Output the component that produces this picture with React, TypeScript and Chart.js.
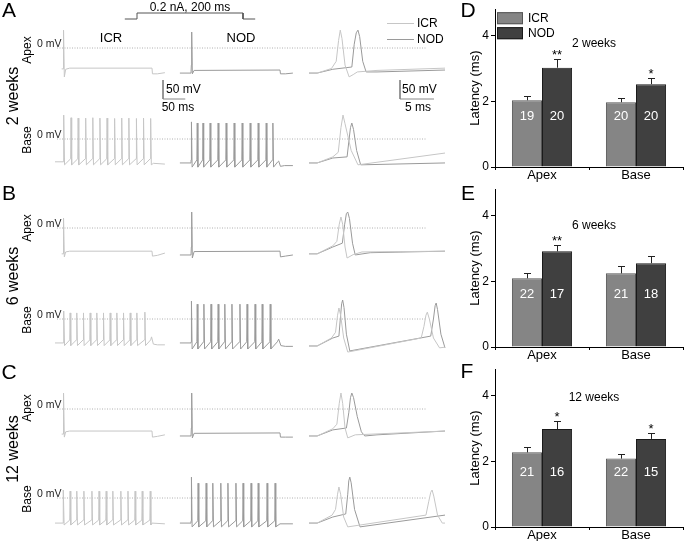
import React, { useEffect, useRef } from 'react';
import { Chart, registerables } from 'chart.js';

Chart.register(...registerables);

const FONT = 'Arial, "Liberation Sans", Helvetica, sans-serif';
Chart.defaults.font.family = FONT;
Chart.defaults.color = '#000';

type Pt = [number, number];

// ---------------- Bar chart data (latency, ms) ----------------
const groups = ['ICR', 'NOD'];
const barCategories = ['Apex', 'Base'];
const weekTitles = ['2 weeks', '6 weeks', '12 weeks'];
const latencyTicks = [0, 2, 4];

const icrLatency2w = [2.03, 1.97];
const icrErr2w = [0.12, 0.14];
const nodLatency2w = [3.02, 2.52];
const nodErr2w = [0.25, 0.2];
const icrN2w = [19, 20];
const nodN2w = [20, 20];
const nodStars2w = ['**', '*'];

const icrLatency6w = [2.09, 2.24];
const icrErr6w = [0.17, 0.22];
const nodLatency6w = [2.91, 2.55];
const nodErr6w = [0.18, 0.21];
const icrN6w = [22, 21];
const nodN6w = [17, 18];
const nodStars6w = ['**', ''];

const icrLatency12w = [2.27, 2.08];
const icrErr12w = [0.15, 0.15];
const nodLatency12w = [2.98, 2.68];
const nodErr12w = [0.24, 0.18];
const icrN12w = [21, 22];
const nodN12w = [16, 15];
const nodStars12w = ['*', '*'];

// ---------------- Trace data: [time ms, mV] ----------------
// Apex, long step (t = 0 at step onset, step lasts 200 ms)
const apexIcr2w: Pt[] = [[-3, -55], [0, -55], [0.8, -40], [1.6, 47], [3, -76], [6, -56], [15, -53], [200, -53], [201, -68], [212, -68], [229, -65]];
const apexNod2w: Pt[] = [[-25, -66], [0, -66], [0.8, -45], [1.6, 42], [3, -68], [7, -59], [200, -58], [201, -68], [212, -68], [229, -66]];
const apexIcr6w: Pt[] = [[-3, -68], [0, -68], [0.8, -50], [1.6, 26], [3, -76], [6, -63], [15, -61], [200, -61], [201, -74], [212, -72], [229, -66]];
const apexNod6w: Pt[] = [[-25, -71], [0, -71], [0.8, -50], [1.6, 42], [3, -79], [7, -62], [200, -61], [201, -76], [212, -74], [229, -71]];
const apexIcr12w: Pt[] = [[-3, -66], [0, -66], [0.8, -48], [1.6, 42], [3, -74], [6, -60], [15, -58], [200, -58], [201, -74], [212, -72], [229, -68]];
const apexNod12w: Pt[] = [[-25, -71], [0, -71], [0.8, -50], [1.6, 42], [3, -76], [7, -64], [200, -63], [201, -74], [212, -74], [229, -74]];

// Base, long step: spike times (ms) and peak values (mV)
const icrSpikes2w = [2, 18, 34, 51, 67, 83, 99, 116, 132, 148, 165, 181, 197];
const icrPeaks2w = [63, 56, 55, 55, 56, 55, 55, 54, 55, 55, 54, 55, 54];
const icrAfter2w: Pt[] = [[203, -64], [229, -66]];
const nodSpikes2w = [1, 14, 27, 43, 61, 79, 97, 115, 133, 151, 169, 184];
const nodPeaks2w = [45, 42, 42, 42, 42, 42, 42, 42, 42, 42, 42, 42];
const nodAfter2w: Pt[] = [[195, -60], [197, -58], [201, -72], [210, -70], [229, -70]];

const icrSpikes6w = [2, 16, 31, 46, 61, 76, 91, 106, 121, 136, 151, 166, 184];
const icrPeaks6w = [21, 16, 16, 16, 16, 16, 16, 16, 16, 16, 16, 16, 18];
const icrAfter6w: Pt[] = [[197, -55], [199, -47], [203, -66], [212, -68], [229, -68]];
const nodSpikes6w = [1, 14, 29, 45, 61, 76, 92, 110, 126, 144, 160, 178];
const nodPeaks6w = [47, 39, 39, 39, 39, 39, 39, 39, 39, 39, 39, 39];
const nodAfter6w: Pt[] = [[194, -60], [197, -53], [202, -70], [212, -72], [229, -72]];

const icrSpikes12w = [1, 16, 31, 47, 65, 81, 97, 112, 130, 146, 162, 178, 196];
const icrPeaks12w = [21, 18, 18, 18, 18, 18, 18, 18, 18, 18, 18, 18, 18];
const icrAfter12w: Pt[] = [[200, -66], [229, -68]];
const nodSpikes12w = [1, 16, 34, 49, 67, 83, 101, 117, 135, 151, 171, 189];
const nodPeaks12w = [55, 39, 39, 39, 39, 39, 39, 39, 39, 39, 39, 39];
const nodAfter12w: Pt[] = [[200, -68], [229, -68]];

// First action potential, expanded time (t = 0 at trace start)
const zApexIcr2w: Pt[] = [[0, -66], [1.2, -66], [3.3, -54], [4.0, -35], [4.35, 20], [4.6, 47], [4.85, 25], [5.3, -45], [5.9, -76], [6.5, -70], [7.1, -63], [10, -59], [20, -53]];
const zApexNod2w: Pt[] = [[0, -66], [1.2, -66], [3.5, -56], [6.3, -50], [6.65, 10], [6.95, 40], [7.2, 47], [7.45, 30], [7.9, -35], [8.4, -63], [10, -63], [20, -58]];
const zBaseIcr2w: Pt[] = [[0, -63], [1.2, -63], [3.5, -47], [4.3, -35], [4.7, 30], [5.0, 63], [5.3, 40], [6.2, -30], [7.2, -68], [20, -37]];
const zBaseNod2w: Pt[] = [[0, -63], [1.2, -63], [3.5, -50], [5.6, -47], [5.9, 0], [6.1, 30], [6.3, 42], [6.55, 25], [7, -30], [7.6, -68], [20, -63]];

const zApexIcr6w: Pt[] = [[0, -68], [1.2, -68], [3.5, -47], [4.1, -35], [4.45, 10], [4.7, 29], [4.95, 10], [5.3, -50], [5.6, -79], [6.5, -70], [7.8, -63], [20, -61]];
const zApexNod6w: Pt[] = [[0, -68], [1.2, -68], [3.5, -50], [4.9, -40], [5.25, 10], [5.5, 38], [5.7, 42], [5.95, 25], [6.4, -40], [6.8, -71], [9, -65], [20, -61]];
const zBaseIcr6w: Pt[] = [[0, -71], [1.2, -71], [3.3, -50], [3.9, -35], [4.2, 10], [4.4, 29], [4.65, 10], [5.1, -50], [5.7, -87], [16.5, -50], [16.9, -20], [17.2, 10], [17.4, 18], [17.7, 0], [18.3, -50], [19.2, -76], [20, -74]];
const zBaseNod6w: Pt[] = [[0, -71], [1.2, -71], [3.5, -50], [4.4, -45], [4.65, 10], [4.8, 40], [4.95, 50], [5.15, 30], [5.5, -40], [6, -84], [17.9, -45], [18.3, 0], [18.55, 35], [18.7, 42], [18.9, 25], [19.4, -40], [20, -76]];

const zApexIcr12w: Pt[] = [[0, -71], [1.2, -71], [3.5, -52], [4.1, -40], [4.45, 15], [4.7, 42], [4.95, 15], [5.3, -50], [5.7, -76], [6.8, -68], [20, -58]];
const zApexNod12w: Pt[] = [[0, -71], [1.2, -71], [3.5, -55], [5.5, -50], [5.85, -10], [6.1, 30], [6.3, 42], [6.55, 30], [7.1, -20], [7.7, -60], [8.2, -71], [10, -68], [20, -58]];
const zBaseIcr12w: Pt[] = [[0, -66], [1.2, -66], [3.4, -45], [3.9, -30], [4.2, 10], [4.4, 29], [4.65, 10], [5.1, -50], [5.7, -76], [17.2, -45], [17.6, -10], [17.9, 15], [18.1, 21], [18.35, 5], [18.9, -45], [19.6, -66], [20, -66]];
const zBaseNod12w: Pt[] = [[0, -66], [1.2, -66], [3.5, -50], [5.4, -42], [5.7, 10], [5.85, 45], [6, 55], [6.2, 40], [6.7, -30], [7.5, -76], [20, -45]];

// Stimulus: [ms, nA]
const stimulus: Pt[] = [[-23, 0], [0, 0], [0, 0.2], [200, 0.2], [200, 0], [223, 0]];
// Scale bars: [ms, mV]
const scaleLong: Pt[] = [[0, 50], [0, 0], [50, 0]];
const scaleZoom: Pt[] = [[0, 50], [0, 0], [5, 0]];

// ---------------- helpers ----------------
function trainPoints(start: number, rest: number, spikes: number[], peaks: number[], thr: number, trough: number, after: Pt[]): Pt[] {
  const pts: Pt[] = [[start, rest], [0, rest]];
  spikes.forEach((t, i) => {
    pts.push([t - 0.8, thr], [t, peaks[i]], [t + 1.5, trough]);
  });
  return pts.concat(after);
}

const ICR_COLOR = '#c6c6c6';
const NOD_COLOR = '#9a9a9a';
const ICR_BAR = '#858585';
const NOD_BAR = '#404040';

type Box = { x: number; y: number; w: number; h: number };
type Series = { pts: Pt[]; color: string; dash?: number[] };

function traceConfig(box: Box, ax: number, ay: number, pxX: number, pxY: number, series: Series[]) {
  return {
    type: 'line',
    data: {
      datasets: series.map((s) => ({
        data: s.pts.map(([x, y]) => ({ x, y })),
        borderColor: s.color,
        borderWidth: 1,
        borderDash: s.dash || [],
        pointRadius: 0,
        tension: 0,
        fill: false,
      })),
    },
    options: {
      responsive: false,
      animation: false,
      devicePixelRatio: 1,
      events: [],
      layout: { padding: 0 },
      plugins: { legend: { display: false }, tooltip: { enabled: false } },
      scales: {
        x: { type: 'linear', display: false, min: (box.x - ax) / pxX, max: (box.x + box.w - ax) / pxX },
        y: { type: 'linear', display: false, min: (ay - box.y - box.h) / pxY, max: (ay - box.y) / pxY },
      },
    },
  };
}

function ChartCanvas({ box, config }: { box: Box; config: any }) {
  const ref = useRef<HTMLCanvasElement>(null);
  useEffect(() => {
    const chart = new Chart(ref.current as HTMLCanvasElement, config);
    return () => chart.destroy();
  }, []);
  return (
    <canvas
      ref={ref}
      width={box.w}
      height={box.h}
      style={{ position: 'absolute', left: box.x, top: box.y, width: box.w, height: box.h }}
    />
  );
}

function Label({ x, y, text, size, rotate, align, color }: { x: number; y: number; text: string; size: number; rotate?: boolean; align?: 'left' | 'center'; color?: string }) {
  const tx = align === 'left' ? '0' : '-50%';
  return (
    <div
      style={{
        position: 'absolute',
        left: x,
        top: y,
        transform: `translate(${tx}, -50%)${rotate ? ' rotate(-90deg)' : ''}`,
        transformOrigin: align === 'left' ? 'left center' : 'center center',
        fontSize: size,
        lineHeight: 1,
        whiteSpace: 'nowrap',
        fontFamily: FONT,
        color: color || '#000',
      }}
    >
      {text}
    </div>
  );
}

const PX_MS_LONG = 0.445;
const PX_MV = 0.38;
const PX_MS_ZOOM = 6.8;

type TraceRow = {
  zeroApex: number;
  zeroBase: number;
  apexIcr: Pt[];
  apexNod: Pt[];
  baseIcr: Pt[];
  baseNod: Pt[];
  zApexIcr: Pt[];
  zApexNod: Pt[];
  zBaseIcr: Pt[];
  zBaseNod: Pt[];
};

const rows: TraceRow[] = [
  {
    zeroApex: 48, zeroBase: 139,
    apexIcr: apexIcr2w, apexNod: apexNod2w,
    baseIcr: trainPoints(-18, -60, icrSpikes2w, icrPeaks2w, -52, -68, icrAfter2w),
    baseNod: trainPoints(-25, -63, nodSpikes2w, nodPeaks2w, -55, -74, nodAfter2w),
    zApexIcr: zApexIcr2w, zApexNod: zApexNod2w, zBaseIcr: zBaseIcr2w, zBaseNod: zBaseNod2w,
  },
  {
    zeroApex: 228, zeroBase: 319,
    apexIcr: apexIcr6w, apexNod: apexNod6w,
    baseIcr: trainPoints(-18, -63, icrSpikes6w, icrPeaks6w, -55, -70, icrAfter6w),
    baseNod: trainPoints(-25, -63, nodSpikes6w, nodPeaks6w, -60, -79, nodAfter6w),
    zApexIcr: zApexIcr6w, zApexNod: zApexNod6w, zBaseIcr: zBaseIcr6w, zBaseNod: zBaseNod6w,
  },
  {
    zeroApex: 409, zeroBase: 498,
    apexIcr: apexIcr12w, apexNod: apexNod12w,
    baseIcr: trainPoints(-18, -66, icrSpikes12w, icrPeaks12w, -58, -71, icrAfter12w),
    baseNod: trainPoints(-25, -66, nodSpikes12w, nodPeaks12w, -60, -76, nodAfter12w),
    zApexIcr: zApexIcr12w, zApexNod: zApexNod12w, zBaseIcr: zBaseIcr12w, zBaseNod: zBaseNod12w,
  },
];

const ICR_ONSET = 63;
const NOD_ONSET = 191;
const ZOOM_START = 309;

function TraceRowView({ row }: { row: TraceRow }) {
  const items: any[] = [];
  const add = (key: string, box: Box, ax: number, ay: number, pxX: number, series: Series[]) => {
    items.push(<ChartCanvas key={key} box={box} config={traceConfig(box, ax, ay, pxX, PX_MV, series)} />);
  };
  [
    { z: row.zeroApex, icr: row.apexIcr, nod: row.apexNod, zi: row.zApexIcr, zn: row.zApexNod, k: 'a' },
    { z: row.zeroBase, icr: row.baseIcr, nod: row.baseNod, zi: row.zBaseIcr, zn: row.zBaseNod, k: 'b' },
  ].forEach((r) => {
    const zeroBox = { x: 57, y: r.z - 2, w: 370, h: 4 };
    items.push(
      <ChartCanvas
        key={r.k + 'zero'}
        box={zeroBox}
        config={traceConfig(zeroBox, 57, r.z, 1, PX_MV, [
          { pts: [[0, 0], [370, 0]], color: '#b0b0b0', dash: [1, 1.5] },
        ])}
      />
    );
    add(r.k + 'icr', { x: 52, y: r.z - 38, w: 120, h: 95 }, ICR_ONSET, r.z, PX_MS_LONG, [{ pts: r.icr, color: ICR_COLOR }]);
    add(r.k + 'nod', { x: 178, y: r.z - 38, w: 120, h: 95 }, NOD_ONSET, r.z, PX_MS_LONG, [{ pts: r.nod, color: NOD_COLOR }]);
    add(r.k + 'zoom', { x: 303, y: r.z - 38, w: 146, h: 95 }, ZOOM_START, r.z, PX_MS_ZOOM, [
      { pts: r.zi, color: ICR_COLOR },
      { pts: r.zn, color: NOD_COLOR },
    ]);
  });
  return <>{items}</>;
}

// ---------------- bar charts ----------------
type WeekBars = {
  icr: number[]; icrErr: number[]; nod: number[]; nodErr: number[];
  icrN: number[]; nodN: number[]; nodStars: string[];
  title: string; titleDy: number; numValue: number; legend: boolean; top: number;
};

const weeks: WeekBars[] = [
  { icr: icrLatency2w, icrErr: icrErr2w, nod: nodLatency2w, nodErr: nodErr2w, icrN: icrN2w, nodN: nodN2w, nodStars: nodStars2w, title: weekTitles[0], titleDy: 34, numValue: 1.55, legend: true, top: 0 },
  { icr: icrLatency6w, icrErr: icrErr6w, nod: nodLatency6w, nodErr: nodErr6w, icrN: icrN6w, nodN: nodN6w, nodStars: nodStars6w, title: weekTitles[1], titleDy: 36, numValue: 1.6, legend: false, top: 180 },
  { icr: icrLatency12w, icrErr: icrErr12w, nod: nodLatency12w, nodErr: nodErr12w, icrN: icrN12w, nodN: nodN12w, nodStars: nodStars12w, title: weekTitles[2], titleDy: 28, numValue: 1.65, legend: false, top: 360 },
];

function barConfig(w: WeekBars) {
  const errs = [w.icrErr, w.nodErr];
  const ns = [w.icrN, w.nodN];
  const stars = [['', ''], w.nodStars];
  const decor = {
    id: 'decor',
    afterDatasetsDraw(chart: any) {
      const ctx = chart.ctx;
      const ys = chart.scales.y;
      const area = chart.chartArea;
      chart.data.datasets.forEach((ds: any, di: number) => {
        const meta = chart.getDatasetMeta(di);
        meta.data.forEach((el: any, i: number) => {
          const v = ds.data[i];
          const top = Math.round(ys.getPixelForValue(v + errs[di][i])) + 0.5;
          const x = Math.round(el.x) + 0.5;
          ctx.save();
          ctx.strokeStyle = '#222';
          ctx.lineWidth = 1;
          ctx.beginPath();
          ctx.moveTo(x, el.y);
          ctx.lineTo(x, top);
          ctx.moveTo(x - 3.5, top);
          ctx.lineTo(x + 3.5, top);
          ctx.stroke();
          ctx.fillStyle = '#fff';
          ctx.font = '13px ' + FONT;
          ctx.textAlign = 'center';
          ctx.textBaseline = 'middle';
          ctx.fillText(String(ns[di][i]), el.x, ys.getPixelForValue(w.numValue));
          if (stars[di][i]) {
            ctx.fillStyle = '#000';
            ctx.textBaseline = 'alphabetic';
            ctx.fillText(stars[di][i], el.x, top - 0.5);
          }
          ctx.restore();
        });
      });
      ctx.save();
      ctx.fillStyle = '#000';
      ctx.font = '12px ' + FONT;
      ctx.textAlign = 'center';
      ctx.textBaseline = 'middle';
      ctx.fillText(w.title, area.left + 99, area.top + w.titleDy);
      if (w.legend) {
        chart.data.datasets.forEach((ds: any, di: number) => {
          const y0 = area.top + 3 + di * 15;
          ctx.fillStyle = ds.backgroundColor;
          ctx.strokeStyle = ds.borderColor;
          ctx.fillRect(area.left + 2, y0, 26, 12);
          ctx.strokeRect(area.left + 2.5, y0 + 0.5, 25, 11);
          ctx.fillStyle = '#000';
          ctx.textAlign = 'left';
          ctx.fillText(ds.label, area.left + 33, y0 + 6);
        });
      }
      ctx.restore();
    },
  };
  return {
    type: 'bar',
    data: {
      labels: barCategories,
      datasets: [
        { label: groups[0], data: w.icr, backgroundColor: ICR_BAR, borderColor: '#555', borderWidth: 1 },
        { label: groups[1], data: w.nod, backgroundColor: NOD_BAR, borderColor: '#1a1a1a', borderWidth: 1 },
      ],
    },
    options: {
      responsive: false,
      animation: false,
      devicePixelRatio: 1,
      events: [],
      layout: { padding: { top: 5.4, right: 2, left: 0, bottom: 0 } },
      datasets: { bar: { categoryPercentage: 0.64, barPercentage: 1 } },
      plugins: { legend: { display: false }, tooltip: { enabled: false } },
      scales: {
        x: {
          grid: { drawOnChartArea: false, tickLength: 3, color: '#000', offset: true },
          border: { color: '#000' },
          ticks: { font: { size: 13 }, color: '#000', padding: -2 },
          afterFit: (s: any) => { s.height = 23; },
        },
        y: {
          min: 0,
          max: 4.8,
          afterBuildTicks: (s: any) => { s.ticks = latencyTicks.map((v) => ({ value: v })); },
          ticks: { font: { size: 12 }, color: '#000', padding: 2 },
          grid: { drawOnChartArea: false, tickLength: 4, color: '#000' },
          border: { color: '#000' },
          title: { display: true, text: 'Latency (ms)', font: { size: 13 }, color: '#000', padding: { top: 28, bottom: 0 } },
          afterFit: (s: any) => { s.width = 55; },
        },
      },
    },
    plugins: [decor],
  };
}

export default function App() {
  const rowLabels = [
    { letter: 'A', ly: 9, week: '2 weeks', wy: 96, apexY: 50, baseY: 140 },
    { letter: 'B', ly: 192, week: '6 weeks', wy: 276, apexY: 228, baseY: 320 },
    { letter: 'C', ly: 371, week: '12 weeks', wy: 449, apexY: 408, baseY: 499 },
  ];
  const barLetters = [
    { l: 'D', x: 468, y: 9 },
    { l: 'E', x: 468, y: 192 },
    { l: 'F', x: 467, y: 370 },
  ];
  return (
    <div style={{ position: 'absolute', left: 0, top: 0, width: 685, height: 541, overflow: 'hidden', background: '#fff', fontFamily: FONT }}>
      {rows.map((r, i) => <TraceRowView key={i} row={r} />)}

      {/* stimulus */}
      <ChartCanvas
        box={{ x: 120, y: 8, w: 140, h: 14 }}
        config={traceConfig({ x: 120, y: 8, w: 140, h: 14 }, 137, 19, 0.53, 30, [{ pts: stimulus, color: '#555' }])}
      />
      <Label x={190} y={7} text="0.2 nA, 200 ms" size={12} />

      {/* scale bars */}
      <ChartCanvas
        box={{ x: 158, y: 75, w: 32, h: 30 }}
        config={traceConfig({ x: 158, y: 75, w: 32, h: 30 }, 163, 99, PX_MS_LONG, PX_MV, [{ pts: scaleLong, color: '#888' }])}
      />
      <Label x={166} y={89} text="50 mV" size={12} align="left" />
      <Label x={178} y={107} text="50 ms" size={12} />
      <ChartCanvas
        box={{ x: 396, y: 75, w: 44, h: 30 }}
        config={traceConfig({ x: 396, y: 75, w: 44, h: 30 }, 400, 99, PX_MS_ZOOM, PX_MV, [{ pts: scaleZoom, color: '#888' }])}
      />
      <Label x={402} y={89} text="50 mV" size={12} align="left" />
      <Label x={418} y={107} text="5 ms" size={12} />

      {/* overlay legend */}
      <div style={{ position: 'absolute', left: 387, top: 23, width: 27, borderTop: `1px solid ${ICR_COLOR}` }} />
      <div style={{ position: 'absolute', left: 387, top: 39, width: 27, borderTop: `1px solid ${NOD_COLOR}` }} />
      <Label x={417} y={23} text="ICR" size={12} align="left" />
      <Label x={417} y={39} text="NOD" size={12} align="left" />

      <Label x={111} y={37} text="ICR" size={13} />
      <Label x={241} y={37} text="NOD" size={13} />

      {rowLabels.map((r, i) => (
        <React.Fragment key={i}>
          <Label x={9} y={r.ly} text={r.letter} size={21} />
          <Label x={13} y={r.wy} text={r.week} size={16} rotate />
          <Label x={27} y={r.apexY} text="Apex" size={12} rotate />
          <Label x={27} y={r.baseY} text="Base" size={12} rotate />
          <Label x={37} y={rows[i].zeroApex - 5} text="0 mV" size={10.5} align="left" color="#222" />
          <Label x={37} y={rows[i].zeroBase - 5} text="0 mV" size={10.5} align="left" color="#222" />
        </React.Fragment>
      ))}

      {weeks.map((w, i) => (
        <ChartCanvas key={'bar' + i} box={{ x: 440, y: w.top, w: 245, h: 190 }} config={barConfig(w)} />
      ))}
      {barLetters.map((b) => (
        <Label key={b.l} x={b.x} y={b.y} text={b.l} size={21} />
      ))}
    </div>
  );
}
